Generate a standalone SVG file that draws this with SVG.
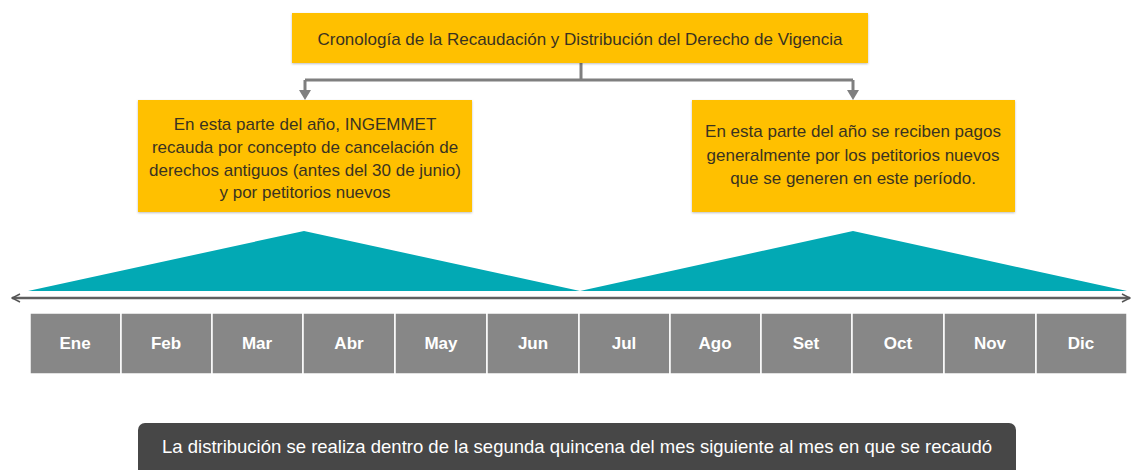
<svg xmlns="http://www.w3.org/2000/svg" width="1134" height="470" viewBox="0 0 1134 470">
<style>
.box{fill:#FFC000;}
.btxt{font-family:"Liberation Sans","DejaVu Sans",sans-serif;font-size:17px;fill:#3a3320;text-anchor:middle;}
.cell{fill:#878787;stroke:#ffffff;stroke-width:1.5;}
.mtxt{font-family:"Liberation Sans","DejaVu Sans",sans-serif;font-size:17px;font-weight:bold;fill:#ffffff;text-anchor:middle;}
.conn{fill:none;stroke:#7f7f7f;stroke-width:3;}
.head{fill:#7f7f7f;}
.tri{fill:#02A9B4;}
</style>
<defs>
<marker id="chev" viewBox="0 0 10 10" refX="9" refY="5" markerWidth="4" markerHeight="4" orient="auto-start-reverse" markerUnits="strokeWidth">
<path d="M1,1 L9,5 L1,9" fill="none" stroke="#555555" stroke-width="1.5"/>
</marker>
<filter id="sh" x="-5%" y="-10%" width="110%" height="130%">
<feDropShadow dx="0" dy="1" stdDeviation="1" flood-color="#000" flood-opacity="0.25"/>
</filter>
</defs>
<rect width="1134" height="470" fill="#ffffff"/>

<g id="connectors">
<path class="conn" d="M581,63 V80"/>
<path class="conn" d="M305,80 H853"/>
<path class="conn" d="M305,80 V92"/>
<path class="conn" d="M853,80 V92"/>
<polygon class="head" points="299,90 311,90 305,100"/>
<polygon class="head" points="847,90 859,90 853,100"/>
<path d="M12,298 H1130" fill="none" stroke="#5f5f5f" stroke-width="2.5" marker-start="url(#chev)" marker-end="url(#chev)"/>
</g>

<g id="title">
<rect class="box" x="292" y="13" width="576" height="50" filter="url(#sh)"/>
<text class="btxt" x="580" y="45" font-size="18.5">Cronología de la Recaudación y Distribución del Derecho de Vigencia</text>
</g>

<g id="left-box">
<rect class="box" x="138" y="100" width="334" height="112" filter="url(#sh)"/>
<text class="btxt" x="305" y="130">En esta parte del año, INGEMMET</text>
<text class="btxt" x="305" y="153">recauda por concepto de cancelación de</text>
<text class="btxt" x="305" y="176">derechos antiguos (antes del 30 de junio)</text>
<text class="btxt" x="305" y="198">y por petitorios nuevos</text>
</g>

<g id="right-box">
<rect class="box" x="692" y="100" width="323" height="112" filter="url(#sh)"/>
<text class="btxt" x="853" y="137">En esta parte del año se reciben pagos</text>
<text class="btxt" x="853" y="161">generalmente por los petitorios nuevos</text>
<text class="btxt" x="853" y="184">que se generen en este período.</text>
</g>

<g id="triangles">
<polygon class="tri" points="28,291 304,231 580,291"/>
<polygon class="tri" points="580,291 853,231 1127,291"/>
</g>

<g id="months">
<rect class="cell" x="30" y="313" width="91" height="61"/>
<rect class="cell" x="121" y="313" width="91" height="61"/>
<rect class="cell" x="212" y="313" width="91" height="61"/>
<rect class="cell" x="303" y="313" width="92" height="61"/>
<rect class="cell" x="395" y="313" width="92" height="61"/>
<rect class="cell" x="487" y="313" width="92" height="61"/>
<rect class="cell" x="579" y="313" width="91" height="61"/>
<rect class="cell" x="670" y="313" width="91" height="61"/>
<rect class="cell" x="761" y="313" width="91" height="61"/>
<rect class="cell" x="852" y="313" width="92" height="61"/>
<rect class="cell" x="944" y="313" width="92" height="61"/>
<rect class="cell" x="1036" y="313" width="91" height="61"/>
<text class="mtxt" x="75" y="349">Ene</text>
<text class="mtxt" x="166" y="349">Feb</text>
<text class="mtxt" x="257" y="349">Mar</text>
<text class="mtxt" x="349" y="349">Abr</text>
<text class="mtxt" x="441" y="349">May</text>
<text class="mtxt" x="533" y="349">Jun</text>
<text class="mtxt" x="624" y="349">Jul</text>
<text class="mtxt" x="715" y="349">Ago</text>
<text class="mtxt" x="806" y="349">Set</text>
<text class="mtxt" x="898" y="349">Oct</text>
<text class="mtxt" x="990" y="349">Nov</text>
<text class="mtxt" x="1081" y="349">Dic</text>
</g>

<g id="note">
<rect x="138" y="423" width="878" height="60" rx="7" fill="#474747"/>
<text x="577" y="453" font-family="Liberation Sans, DejaVu Sans, sans-serif" font-size="18.5" fill="#ffffff" text-anchor="middle">La distribución se realiza dentro de la segunda quincena del mes siguiente al mes en que se recaudó</text>
</g>
</svg>
